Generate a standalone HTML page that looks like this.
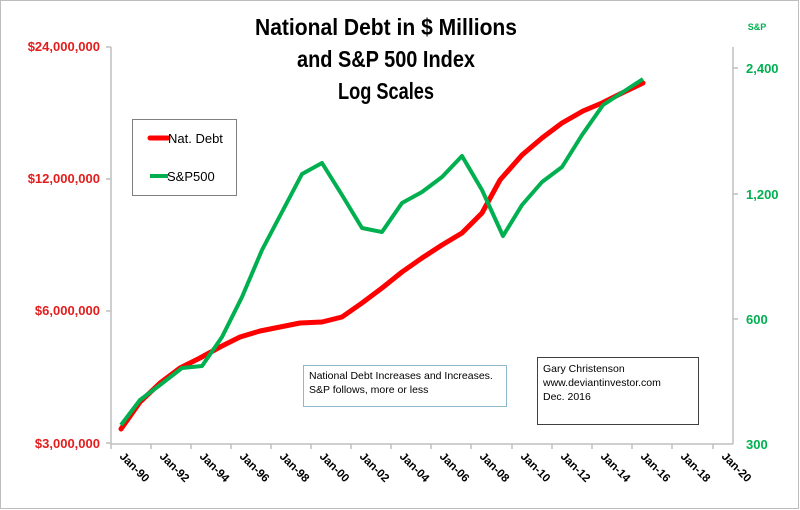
<!DOCTYPE html>
<html><head><meta charset="utf-8"><style>
html,body{margin:0;padding:0;background:#fff}
svg{display:block}
text{font-family:"Liberation Sans",sans-serif}
</style></head><body>
<svg width="800" height="510" viewBox="0 0 800 510" xmlns="http://www.w3.org/2000/svg">
<rect x="0.5" y="0.5" width="798" height="508" fill="#fff" stroke="#bdbdbd"/>
<g font-weight="bold" font-size="23" text-anchor="middle" fill="#000">
<text x="386" y="35" textLength="262" lengthAdjust="spacingAndGlyphs">National Debt  in $ Millions</text>
<text x="386" y="67" textLength="178" lengthAdjust="spacingAndGlyphs">and S&amp;P 500 Index</text>
<text x="386" y="99" textLength="96" lengthAdjust="spacingAndGlyphs">Log Scales</text>
</g>
<text x="757" y="30" font-size="9" font-weight="bold" fill="#00b050" text-anchor="middle">S&amp;P</text>
<g stroke="#bfbfbf" stroke-width="1.5" fill="none">
<line x1="111" y1="47" x2="111" y2="444"/>
<line x1="733" y1="47" x2="733" y2="444"/>
<line x1="111" y1="444" x2="733" y2="444"/>
<line x1="106" y1="47" x2="111" y2="47"/><line x1="106" y1="179" x2="111" y2="179"/>
<line x1="106" y1="311" x2="111" y2="311"/><line x1="106" y1="443" x2="111" y2="443"/>
<line x1="733" y1="68" x2="738" y2="68"/><line x1="733" y1="194" x2="738" y2="194"/>
<line x1="733" y1="319" x2="738" y2="319"/>
<line x1="111" y1="444" x2="111" y2="449"/><line x1="151" y1="444" x2="151" y2="449"/><line x1="191" y1="444" x2="191" y2="449"/><line x1="231" y1="444" x2="231" y2="449"/><line x1="271" y1="444" x2="271" y2="449"/><line x1="311" y1="444" x2="311" y2="449"/><line x1="351" y1="444" x2="351" y2="449"/><line x1="391" y1="444" x2="391" y2="449"/><line x1="431" y1="444" x2="431" y2="449"/><line x1="471" y1="444" x2="471" y2="449"/><line x1="512" y1="444" x2="512" y2="449"/><line x1="552" y1="444" x2="552" y2="449"/><line x1="592" y1="444" x2="592" y2="449"/><line x1="632" y1="444" x2="632" y2="449"/><line x1="672" y1="444" x2="672" y2="449"/><line x1="713" y1="444" x2="713" y2="449"/>
</g>
<g font-size="13" font-weight="bold" fill="#e41c1c" text-anchor="end">
<text x="100" y="51">$24,000,000</text>
<text x="100" y="183">$12,000,000</text>
<text x="100" y="315">$6,000,000</text>
<text x="100" y="448">$3,000,000</text>
</g>
<g font-size="13" font-weight="bold" fill="#00b050">
<text x="746" y="73">2,400</text>
<text x="746" y="199">1,200</text>
<text x="746" y="324">600</text>
<text x="746" y="449">300</text>
</g>
<g font-size="11.5" font-weight="bold" fill="#000">
<text transform="translate(119,457) rotate(45)">Jan-90</text>
<text transform="translate(159,457) rotate(45)">Jan-92</text>
<text transform="translate(199,457) rotate(45)">Jan-94</text>
<text transform="translate(239,457) rotate(45)">Jan-96</text>
<text transform="translate(279,457) rotate(45)">Jan-98</text>
<text transform="translate(319,457) rotate(45)">Jan-00</text>
<text transform="translate(359,457) rotate(45)">Jan-02</text>
<text transform="translate(399,457) rotate(45)">Jan-04</text>
<text transform="translate(439,457) rotate(45)">Jan-06</text>
<text transform="translate(479,457) rotate(45)">Jan-08</text>
<text transform="translate(520,457) rotate(45)">Jan-10</text>
<text transform="translate(560,457) rotate(45)">Jan-12</text>
<text transform="translate(600,457) rotate(45)">Jan-14</text>
<text transform="translate(640,457) rotate(45)">Jan-16</text>
<text transform="translate(680,457) rotate(45)">Jan-18</text>
<text transform="translate(721,457) rotate(45)">Jan-20</text>
</g>
<polyline fill="none" stroke="#ff0000" stroke-width="5" stroke-linejoin="round" stroke-linecap="round" points="121,429 140,402 160,383 180,368 200,358 220,347 240,337 260,331 280,327 300,323 322,322 342,317 362,303 382,288 402,272 422,258 442,245 462,233 482,213 500,180 522,155 542,138 562,123 583,111 602,103 622,93 643,83"/>
<polyline fill="none" stroke="#00b050" stroke-width="4" stroke-linejoin="round" points="121,425 140,400 160,385 182,368 202,366 222,337 242,297 262,250 282,212 302,174 322,163 342,195 362,228 382,232 402,203 422,192 442,177 462,156 482,190 503,236 522,205 542,182 562,167 582,135 603,105 623,92 643,79"/>
<rect x="132.5" y="119.5" width="104" height="76" fill="#fff" stroke="#808080"/>
<line x1="150" y1="138" x2="168" y2="138" stroke="#ff0000" stroke-width="5" stroke-linecap="round"/>
<text x="168" y="143" font-size="13" fill="#000">Nat. Debt</text>
<line x1="150" y1="176" x2="168" y2="176" stroke="#00b050" stroke-width="4"/>
<text x="167" y="181" font-size="13" fill="#000">S&amp;P500</text>
<rect x="303.5" y="365.5" width="203" height="41" fill="#fff" stroke="#8fb8cc"/>
<text x="309" y="379" font-size="10.5" fill="#000">National Debt Increases and Increases.</text>
<text x="309" y="393" font-size="10.5" fill="#000">S&amp;P follows, more or less</text>
<rect x="537.5" y="357.5" width="161" height="67" fill="#fff" stroke="#404040"/>
<text x="543" y="372" font-size="10.5" fill="#000">Gary Christenson</text>
<text x="543" y="386" font-size="10.5" fill="#000">www.deviantinvestor.com</text>
<text x="543" y="400" font-size="10.5" fill="#000">Dec. 2016</text>
</svg>
</body></html>
